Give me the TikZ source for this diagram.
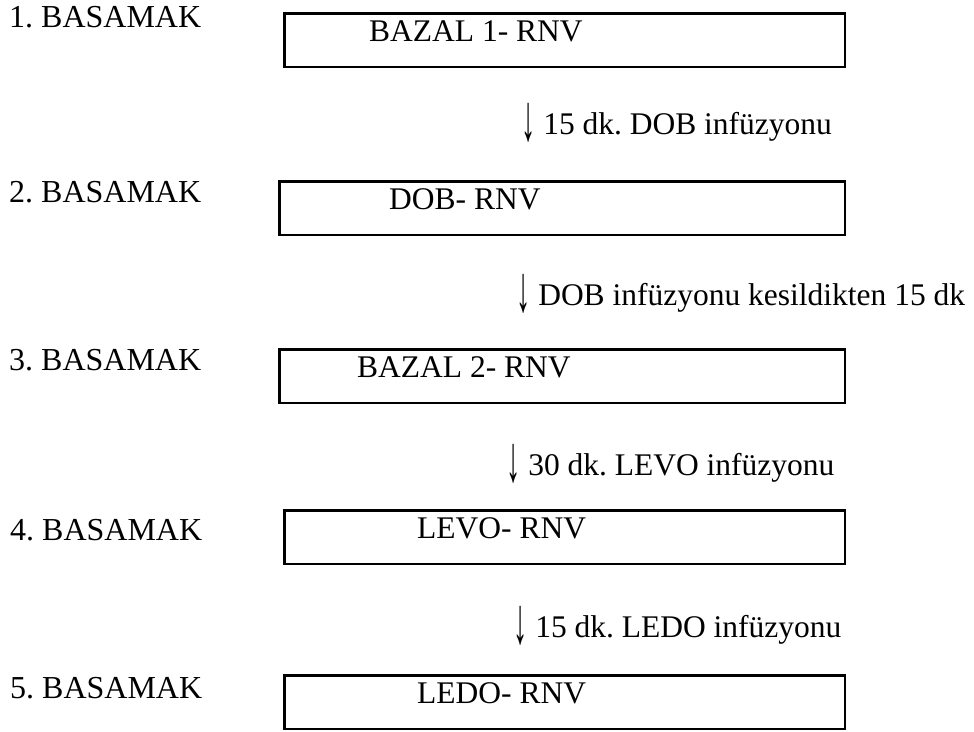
\documentclass[tikz,border=0pt]{standalone}
\usepackage{fontspec}
\setmainfont{Liberation Serif}
\frenchspacing

\newcommand{\asagiok}{\raisebox{-6pt}{\scalebox{0.9}[2.1]{↓}}}

\tikzset{
    basamak/.style={anchor=base west, inner sep=0pt, font=\fontsize{32}{38}\selectfont},
    yazi/.style={anchor=base west, inner sep=0pt, font=\fontsize{31.5}{38}\selectfont},
    kutu/.style={draw, line width=2.6pt, anchor=north west, inner sep=0pt,
        minimum width=560.5pt, minimum height=53.5pt}
}

\begin{document}
\begin{tikzpicture}[x=1pt, y=-1pt]
        \useasboundingbox (0, 0) rectangle (974, 731);

        \node[kutu] (k1) at (283.3, 12.3) {};
        \node[kutu, minimum width=565.5pt] (k2) at (278.3, 180.3) {};
        \node[kutu, minimum width=565.5pt] (k3) at (278.3, 348.3) {};
        \node[kutu] (k4) at (283.3, 509.3) {};
        \node[kutu] (k5) at (283.3, 674.3) {};

        \node[basamak] (b1) at (9, 27) {1. BASAMAK};
        \node[basamak] (b2) at (9, 202) {2. BASAMAK};
        \node[basamak] (b3) at (9, 370) {3. BASAMAK};
        \node[basamak] (b4) at (10, 540) {4. BASAMAK};
        \node[basamak] (b5) at (10, 698) {5. BASAMAK};

        \node[yazi] (r1) at (369, 41) {BAZAL 1- RNV};
        \node[yazi] (r2) at (389, 209) {DOB- RNV};
        \node[yazi] (r3) at (357, 377) {BAZAL 2- RNV};
        \node[yazi] (r4) at (417, 538) {LEVO- RNV};
        \node[yazi] (r5) at (417, 703) {LEDO- RNV};

        \node[yazi] (i1) at (521, 134) {\asagiok\ 15 dk. DOB infüzyonu};
        \node[yazi] (i2) at (516, 305) {\asagiok\ DOB infüzyonu kesildikten 15 dk};
        \node[yazi] (i3) at (506, 475) {\asagiok\ 30 dk. LEVO infüzyonu};
        \node[yazi] (i4) at (513, 637) {\asagiok\ 15 dk. LEDO infüzyonu};

    \end{tikzpicture}
\end{document}
